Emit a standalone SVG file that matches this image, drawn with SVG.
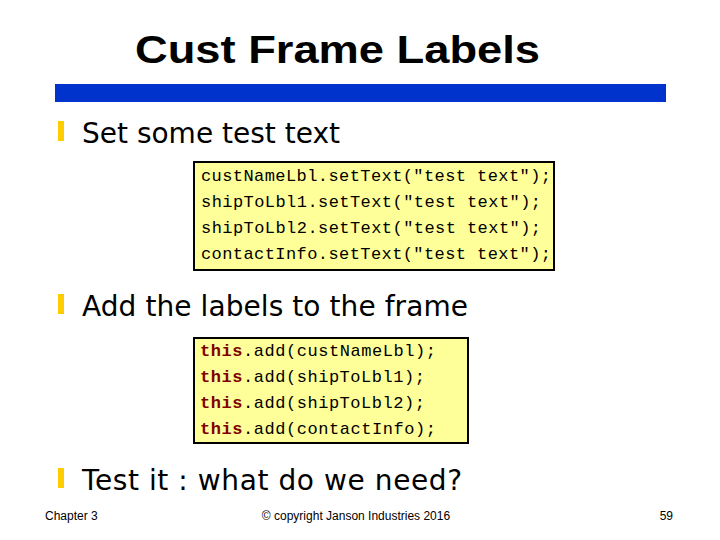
<svg xmlns="http://www.w3.org/2000/svg" width="720" height="540" viewBox="0 0 720 540">
<style>
.b{font-family:"DejaVu Sans","Liberation Sans",sans-serif;font-size:28px;fill:#000}
.c{font-family:"Liberation Mono",monospace;font-size:17px;fill:#000}
.k{fill:#800000;font-weight:bold}
.box{fill:#ffff99;stroke:#000;stroke-width:2}
.bul{fill:#ffcc00}
.f{font-family:"Liberation Sans",sans-serif;font-size:12px;fill:#000}
</style>
<rect width="720" height="540" fill="#fff"/>
<text x="135" y="63" textLength="405" lengthAdjust="spacingAndGlyphs" font-family="'Liberation Sans',sans-serif" font-weight="bold" font-size="38">Cust Frame Labels</text>
<rect x="55" y="84" width="611" height="18" fill="#0033cc"/>
<rect class="bul" x="58" y="121" width="6" height="20"/>
<text class="b" x="82" y="143" textLength="258">Set some test text</text>
<g id="code1">
<rect class="box" x="194" y="162" width="360" height="108"/>
<text class="c" x="201" y="181" textLength="350">custNameLbl.setText("test text");</text>
<text class="c" x="201" y="207" textLength="340">shipToLbl1.setText("test text");</text>
<text class="c" x="201" y="233" textLength="340">shipToLbl2.setText("test text");</text>
<text class="c" x="201" y="259" textLength="350">contactInfo.setText("test text");</text>
</g>
<rect class="bul" x="58" y="294" width="6" height="20"/>
<text class="b" x="82" y="316" textLength="386">Add the labels to the frame</text>
<g id="code2">
<rect class="box" x="194" y="338" width="274" height="105"/>
<text class="c" x="200" y="356" textLength="236"><tspan class="k">this</tspan>.add(custNameLbl);</text>
<text class="c" x="200" y="382" textLength="225"><tspan class="k">this</tspan>.add(shipToLbl1);</text>
<text class="c" x="200" y="408" textLength="225"><tspan class="k">this</tspan>.add(shipToLbl2);</text>
<text class="c" x="200" y="434" textLength="236"><tspan class="k">this</tspan>.add(contactInfo);</text>
</g>
<rect class="bul" x="58" y="468" width="6" height="20"/>
<text class="b" x="82" y="490" textLength="380">Test it : what do we need?</text>
<text class="f" x="45" y="520">Chapter 3</text>
<text class="f" x="356" y="520" text-anchor="middle">© copyright Janson Industries 2016</text>
<text class="f" x="673" y="520" text-anchor="end">59</text>
</svg>
